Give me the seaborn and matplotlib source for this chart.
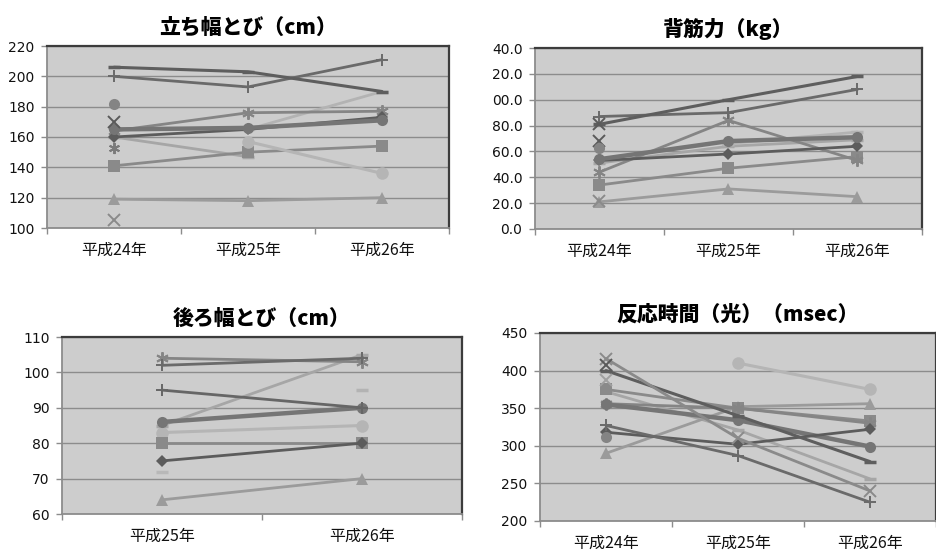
import numpy as np
import pandas as pd
import matplotlib
matplotlib.use("Agg")
import matplotlib.pyplot as plt
import seaborn as sns

nan = np.nan

# ---- categories -------------------------------------------------------
years3 = ["平成24年", "平成25年", "平成26年"]
years2 = ["平成25年", "平成26年"]

# ---- 立ち幅とび (cm) --------------------------------------------------
jump_diamond = [160, 165, 173]
jump_square = [141, 150, 154]
jump_triangle = [119, 118, 120]
jump_x = [170, nan, nan]
jump_star = [164, 176, 177]
jump_circle = [165, 166, 171]
jump_plus = [200, 193, 211]
jump_line = [206, 203, 190]
jump_x2 = [105, nan, nan]
jump_star2 = [153, nan, nan]
jump_circle2 = [182, nan, nan]
jump_gray = [160, 147, nan]
jump_dash = [nan, 165, 190]
jump_lcircle = [nan, 157, 136]

# ---- 背筋力 (kg) ------------------------------------------------------
back_diamond = [53, 58, 64]
back_square = [34, 47, 56]
back_triangle = [21, 31, 25]
back_x = [68, nan, nan]
back_star = [44, 84, 53]
back_circle = [54, 68, 71]
back_plus = [87, 90, 108]
back_line = [81, 100, 118]
back_x2 = [81, nan, nan]
back_x3 = [22, nan, nan]
back_circle2 = [63, nan, nan]
back_gray = [51, 64, 69]
back_dash = [nan, 66, 75]
back_ticklabels = ["0.0", "20.0", "40.0", "60.0", "80.0", "00.0", "20.0", "40.0"]

# ---- 後ろ幅とび (cm) --------------------------------------------------
rjump_diamond = [75, 80]
rjump_square = [80, 80]
rjump_triangle = [64, 70]
rjump_star = [104, 103]
rjump_circle = [86, 90]
rjump_plus = [102, 104]
rjump_plus2 = [95, 90]
rjump_dash = [72, nan]
rjump_dash2 = [nan, 95]
rjump_gray = [85, 105]
rjump_lcircle = [83, 85]

# ---- 反応時間 (光) (msec) ---------------------------------------------
react_x = [416, 310, 240]
react_line = [400, 340, 279]
react_square = [375, 350, 333]
react_gray = [372, 321, 256]
react_circle = [355, 334, 299]
react_star = [356, 350, 330]
react_plus = [327, 287, 225]
react_diamond = [318, 302, 322]
react_triangle = [290, 352, 356]
react_lcircle = [nan, 410, 375]
react_x2 = [408, nan, nan]
react_x3 = [387, nan, nan]
react_circle2 = [312, nan, nan]

# ---- series appearance (grayscale print) ------------------------------
STAR = (6, 2, 0)
STYLES = {
    "diamond":  dict(marker="D", color="#5c5c5c", ms=6, lw=2.0),
    "square":   dict(marker="s", color="#8a8a8a", ms=8, lw=2.0),
    "triangle": dict(marker="^", color="#9b9b9b", ms=9, lw=2.0),
    "x":        dict(marker="x", color="#5a5a5a", ms=8, lw=2.0),
    "x2":       dict(marker="x", color="#8a8a8a", ms=8, lw=2.0),
    "x3":       dict(marker="x", color="#a0a0a0", ms=8, lw=2.0),
    "star":     dict(marker=STAR, color="#858585", ms=9, lw=2.0),
    "star2":    dict(marker=STAR, color="#7a7a7a", ms=8, lw=2.0),
    "circle":   dict(marker="o", color="#757575", ms=8, lw=3.2),
    "circle2":  dict(marker="o", color="#848484", ms=8, lw=2.0),
    "plus":     dict(marker="+", color="#6a6a6a", ms=9, lw=2.0),
    "plus2":    dict(marker="+", color="#666666", ms=9, lw=2.0),
    "line":     dict(marker="_", color="#5e5e5e", ms=8, lw=2.2),
    "gray":     dict(marker="_", color="#a6a6a6", ms=8, lw=2.0),
    "dash":     dict(marker="_", color="#b3b3b3", ms=9, lw=2.0),
    "dash2":    dict(marker="_", color="#b8b8b8", ms=9, lw=2.0),
    "lcircle":  dict(marker="o", color="#b5b5b5", ms=9, lw=2.2),
}

panels = [
    dict(title="立ち幅とび（cm）", cats=years3, ylim=(100, 220), step=20,
         rect=(47, 46, 449, 228), labels=None,
         series=[("gray", jump_gray), ("triangle", jump_triangle),
                 ("square", jump_square), ("lcircle", jump_lcircle),
                 ("dash", jump_dash), ("star", jump_star),
                 ("diamond", jump_diamond), ("circle", jump_circle),
                 ("plus", jump_plus), ("line", jump_line),
                 ("x", jump_x), ("x2", jump_x2), ("star2", jump_star2),
                 ("circle2", jump_circle2)]),
    dict(title="背筋力（kg）", cats=years3, ylim=(0, 140), step=20,
         rect=(535, 48, 922, 229), labels=back_ticklabels,
         series=[("gray", back_gray), ("dash", back_dash),
                 ("triangle", back_triangle), ("square", back_square),
                 ("star", back_star), ("diamond", back_diamond),
                 ("circle", back_circle), ("plus", back_plus),
                 ("line", back_line), ("x", back_x), ("x", back_x2),
                 ("x2", back_x3), ("circle2", back_circle2)]),
    dict(title="後ろ幅とび（cm）", cats=years2, ylim=(60, 110), step=10,
         rect=(62, 337, 462, 514), labels=None,
         series=[("gray", rjump_gray), ("lcircle", rjump_lcircle),
                 ("triangle", rjump_triangle), ("square", rjump_square),
                 ("diamond", rjump_diamond), ("circle", rjump_circle),
                 ("star", rjump_star), ("plus", rjump_plus),
                 ("plus2", rjump_plus2), ("dash", rjump_dash2),
                 ("dash2", rjump_dash)]),
    dict(title="反応時間（光）（msec）", cats=years3, ylim=(200, 450), step=50,
         rect=(540, 333, 936, 521), labels=None,
         series=[("gray", react_gray), ("lcircle", react_lcircle),
                 ("triangle", react_triangle), ("square", react_square),
                 ("star", react_star), ("circle", react_circle),
                 ("diamond", react_diamond), ("line", react_line),
                 ("plus", react_plus), ("x2", react_x),
                 ("x", react_x2), ("x3", react_x3),
                 ("circle2", react_circle2)]),
]

sns.set_style("white")
plt.rcParams["font.family"] = ["Noto Sans CJK JP", "DejaVu Sans"]

W, H = 937, 556
fig = plt.figure(figsize=(W / 100, H / 100), dpi=100)
fig.patch.set_facecolor("white")

for p in panels:
    x0, y0, x1, y1 = p["rect"]
    ax = fig.add_axes([x0 / W, 1 - y1 / H, (x1 - x0) / W, (y1 - y0) / H])
    ax.set_facecolor("#cdcdcd")
    n = len(p["cats"])
    xs = np.arange(n)
    for key, vals in p["series"]:
        st = STYLES[key]
        df = pd.DataFrame({"x": xs, "y": vals}).dropna()
        if df.empty:
            continue
        mk = st["marker"]
        mew = 1.4 if mk in ("x", "+", STAR) else (2.5 if mk == "_" else 0)
        sns.lineplot(data=df, x="x", y="y", ax=ax, color=st["color"],
                     linewidth=st["lw"], marker=mk, markersize=st["ms"],
                     markeredgewidth=mew, markeredgecolor=st["color"],
                     estimator=None, sort=False, legend=False)
    lo, hi = p["ylim"]
    ax.set_ylim(lo, hi)
    ax.set_xlim(-0.5, n - 0.5)
    yt = np.arange(lo, hi + 1, p["step"])
    ax.set_yticks(yt)
    if p["labels"] is not None:
        ax.set_yticklabels(p["labels"])
    ax.set_xticks(xs)
    ax.set_xticklabels(p["cats"])
    ax.set_xticks(np.arange(-0.5, n, 1.0), minor=True)
    ax.set_xlabel("")
    ax.set_ylabel("")
    ax.yaxis.grid(True, color="#8c8c8c", linewidth=1.0)
    ax.xaxis.grid(False)
    ax.set_axisbelow(True)
    ax.tick_params(axis="x", which="major", length=0, pad=10, labelsize=11.5,
                   labelcolor="#111111")
    ax.tick_params(axis="x", which="minor", length=4, width=1,
                   color="#8c8c8c", direction="out", bottom=True)
    ax.tick_params(axis="y", length=4, width=1, color="#8c8c8c",
                   direction="out", left=True, pad=5, labelsize=10,
                   labelcolor="#111111")
    for lab in ax.get_yticklabels():
        lab.set_fontfamily(["DejaVu Sans"])
    for side in ("left", "bottom"):
        ax.spines[side].set_color("#8c8c8c")
        ax.spines[side].set_linewidth(1.3)
    for side in ("top", "right"):
        ax.spines[side].set_color("#3c3c3c")
        ax.spines[side].set_linewidth(1.6)
    ax.set_title(p["title"], fontsize=15, fontweight="black", pad=9,
                 color="#000000")

fig.savefig("out.png", dpi=100)
